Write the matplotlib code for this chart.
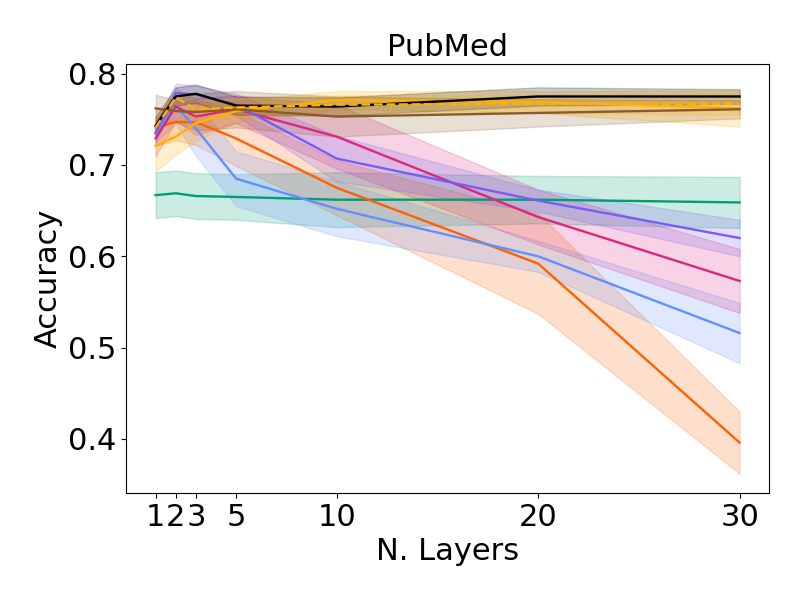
import matplotlib
matplotlib.use("Agg")
import matplotlib.pyplot as plt
import numpy as np

layers = [1, 2, 3, 5, 10, 20, 30]

# mean accuracy per model
acc_green = [0.667, 0.669, 0.666, 0.665, 0.662, 0.662, 0.659]
acc_orange = [0.741, 0.747, 0.747, 0.729, 0.675, 0.592, 0.396]
acc_blue = [0.735, 0.765, 0.740, 0.685, 0.652, 0.600, 0.516]
acc_magenta = [0.729, 0.764, 0.753, 0.761, 0.731, 0.643, 0.573]
acc_purple = [0.735, 0.779, 0.777, 0.766, 0.707, 0.661, 0.620]
acc_yellow = [0.721, 0.731, 0.746, 0.759, 0.771, 0.769, 0.762]
acc_brown = [0.762, 0.759, 0.758, 0.761, 0.753, 0.757, 0.761]
acc_dashed = [0.741, 0.774, 0.761, 0.763, 0.766, 0.767, 0.767]
acc_black = [0.743, 0.775, 0.778, 0.765, 0.764, 0.775, 0.775]

# standard deviations
std_green = [0.025, 0.025, 0.025, 0.025, 0.030, 0.026, 0.028]
std_orange = [0.020, 0.020, 0.025, 0.030, 0.030, 0.055, 0.034]
std_blue = [0.010, 0.020, 0.030, 0.030, 0.030, 0.017, 0.033]
std_magenta = [0.020, 0.015, 0.020, 0.015, 0.035, 0.030, 0.035]
std_purple = [0.010, 0.010, 0.010, 0.012, 0.025, 0.012, 0.020]
std_yellow = [0.028, 0.020, 0.020, 0.012, 0.010, 0.012, 0.020]
std_brown = [0.015, 0.012, 0.020, 0.020, 0.022, 0.015, 0.010]
std_dashed = [0.010, 0.010, 0.010, 0.010, 0.010, 0.010, 0.012]
std_black = [0.010, 0.010, 0.010, 0.010, 0.010, 0.010, 0.008]

series = [
    (acc_green, std_green, "#009E73", "-"),
    (acc_orange, std_orange, "#FE6100", "-"),
    (acc_blue, std_blue, "#648FFF", "-"),
    (acc_magenta, std_magenta, "#DC267F", "-"),
    (acc_purple, std_purple, "#785EF0", "-"),
    (acc_yellow, std_yellow, "#FFB000", "-"),
    (acc_brown, std_brown, "#8B5A2B", "-"),
    (acc_black, std_black, "black", "-"),
    (acc_dashed, std_dashed, "#FFB000", "--"),
]

fig, ax = plt.subplots(figsize=(8, 6), dpi=100)
for mean, std, color, ls in series:
    mean = np.array(mean)
    std = np.array(std)
    ax.plot(layers, mean, color=color, linestyle=ls, linewidth=1.7)
    ax.fill_between(layers, mean - std, mean + std, color=color, alpha=0.2)

ax.set_xticks(layers)
ax.tick_params(labelsize=22)
ax.set_xlabel("N. Layers", fontsize=22)
ax.set_ylabel("Accuracy", fontsize=22)
ax.set_title("PubMed", fontsize=22)
fig.subplots_adjust(left=0.158, right=0.961, top=0.893, bottom=0.178)
plt.savefig("out.png")
